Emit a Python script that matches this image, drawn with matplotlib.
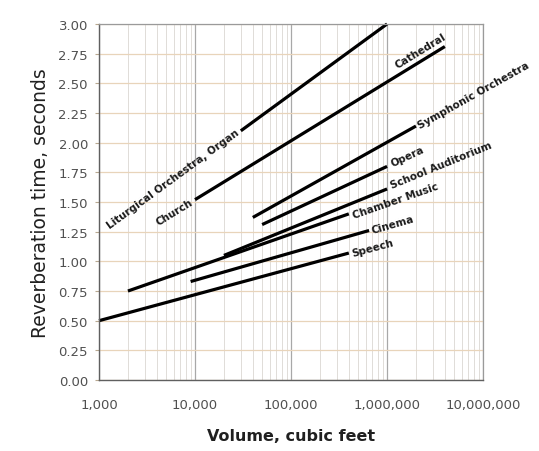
"""Reverberation time vs room volume, recreated with matplotlib."""

import matplotlib.pyplot as plt
import numpy as np
from matplotlib.ticker import FixedLocator, FuncFormatter, LogLocator, NullFormatter

# Line segments: volume (cubic feet) and reverberation time (s) at each end
ROOMS = ["Liturgical", "Church", "Symphonic", "Opera", "School", "Chamber", "Cinema", "Speech"]
VOL_START = [30_000, 10_000, 40_000, 50_000, 20_000, 2_000, 9_000, 1_000]
VOL_END = [1_000_000, 4_000_000, 2_000_000, 1_000_000, 1_000_000, 400_000, 650_000, 400_000]
RT_START = [2.10, 1.52, 1.37, 1.31, 1.05, 0.75, 0.83, 0.50]
RT_END = [3.00, 2.81, 2.14, 1.80, 1.61, 1.40, 1.26, 1.07]

X_TICKS = [1e3, 1e4, 1e5, 1e6, 1e7]
Y_TICKS = np.arange(0, 3.01, 0.25)

# (text, which end, offset in points, ha, va)
LABELS = {
    "Liturgical": [("Liturgical Orchestra, Organ", "start", (-2, 0), "right", "center")],
    "Church": [
        ("Church", "start", (-2, -1), "right", "center"),
        ("Cathedral", "end", (2, 5), "right", "bottom"),
    ],
    "Symphonic": [("Symphonic Orchestra", "end", (2, 0), "left", "center")],
    "Opera": [("Opera", "end", (3, 2), "left", "center")],
    "School": [("School Auditorium", "end", (3, 3), "left", "center")],
    "Chamber": [("Chamber Music", "end", (3, -1), "left", "center")],
    "Cinema": [("Cinema", "end", (2, 0), "left", "center")],
    "Speech": [("Speech", "end", (2, 0), "left", "center")],
}

fig = plt.figure(figsize=(5.39, 4.52), dpi=100)
ax = fig.add_axes([0.1837, 0.157, 0.7125, 0.7877])

ax.set_xscale("log")
ax.set_xlim(1e3, 1e7)
ax.set_ylim(0, 3.0)

# grid
ax.xaxis.set_major_locator(FixedLocator(X_TICKS))
ax.xaxis.set_minor_locator(LogLocator(base=10, subs=np.arange(2, 10)))
ax.xaxis.set_minor_formatter(NullFormatter())
ax.xaxis.set_major_formatter(FuncFormatter(lambda v, _: f"{int(round(v)):,}"))
ax.set_yticks(Y_TICKS)
ax.yaxis.set_major_formatter(FuncFormatter(lambda v, _: f"{v:.2f}"))

ax.grid(True, which="major", axis="x", color="#a8a8a8", lw=0.9)
ax.grid(True, which="minor", axis="x", color="#e0dcd8", lw=0.7)
ax.grid(True, which="major", axis="y", color="#e8d4ba", lw=0.9)
ax.set_axisbelow(True)

for side in ["top", "right"]:
    ax.spines[side].set_color("#9a9a9a")
    ax.spines[side].set_linewidth(0.9)
for side in ["left", "bottom"]:
    ax.spines[side].set_color("#606060")
    ax.spines[side].set_linewidth(1.0)

ax.tick_params(axis="both", which="both", length=0)
ax.tick_params(axis="x", labelsize=9.5, colors="#505050", pad=13)
ax.tick_params(axis="y", which="major", length=3, width=0.8, color="#b8a890",
               labelsize=9.5, labelcolor="#505050", pad=5)

# lines
for name, x0, x1, y0, y1 in zip(ROOMS, VOL_START, VOL_END, RT_START, RT_END):
    ax.plot([x0, x1], [y0, y1], color="black", lw=2.3, solid_capstyle="butt",
            clip_on=False)

fig.canvas.draw()
for name, x0, x1, y0, y1 in zip(ROOMS, VOL_START, VOL_END, RT_START, RT_END):
    p0 = ax.transData.transform((x0, y0))
    p1 = ax.transData.transform((x1, y1))
    angle = np.degrees(np.arctan2(p1[1] - p0[1], p1[0] - p0[0]))
    for text, end, off, ha, va in LABELS[name]:
        xy = (x0, y0) if end == "start" else (x1, y1)
        ax.annotate(text, xy=xy, xytext=off, textcoords="offset points",
                    rotation=angle, rotation_mode="anchor", ha=ha, va=va,
                    fontsize=7.5, fontweight="bold", color="#1a1a1a",
                    annotation_clip=False)

ax.set_xlabel("Volume, cubic feet", fontsize=11.5, fontweight="bold",
              color="#202020", labelpad=12)
ax.set_ylabel("Reverberation time, seconds", fontsize=13.5,
              color="#202020", labelpad=6)

fig.savefig("out.png", dpi=100, facecolor="white")
